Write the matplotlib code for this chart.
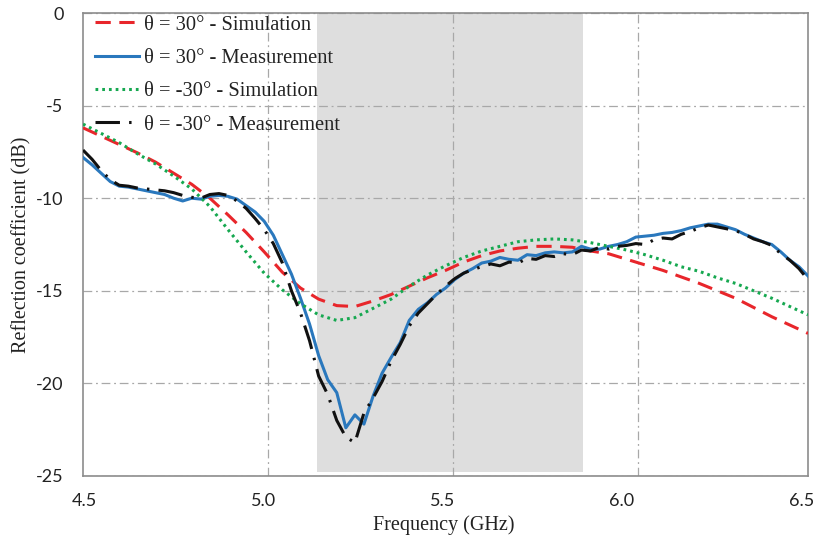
import matplotlib
matplotlib.use("Agg")
import matplotlib.pyplot as plt
from matplotlib.patches import Rectangle
from matplotlib.transforms import ScaledTranslation

plt.rcParams["axes.unicode_minus"] = False

# Simulated reflection coefficient (dB), sampled every 50 MHz
freq_sim = [4.50, 4.55, 4.60, 4.65, 4.70, 4.75, 4.80, 4.85, 4.90, 4.95,
            5.00, 5.05, 5.10, 5.15, 5.20, 5.25, 5.30, 5.35, 5.40, 5.45,
            5.50, 5.55, 5.60, 5.65, 5.70, 5.75, 5.80, 5.85, 5.90, 5.95,
            6.00, 6.05, 6.10, 6.15, 6.20, 6.25, 6.30, 6.35, 6.40, 6.45, 6.50]
sim_p30 = [-6.2, -6.65, -7.1, -7.55, -8.05, -8.65, -9.25, -10.0, -10.9, -11.85,
           -12.9, -14.0, -14.85, -15.45, -15.8, -15.85, -15.55, -15.2, -14.75, -14.3,
           -13.9, -13.45, -13.1, -12.85, -12.7, -12.6, -12.6, -12.65, -12.85, -13.0,
           -13.3, -13.6, -13.9, -14.25, -14.6, -15.0, -15.4, -15.9, -16.4, -16.85, -17.3]
sim_m30 = [-6.0, -6.5, -7.0, -7.6, -8.15, -8.8, -9.5, -10.45, -11.7, -12.9,
           -14.05, -14.95, -15.7, -16.3, -16.6, -16.45, -15.95, -15.45, -14.75, -14.15,
           -13.65, -13.2, -12.85, -12.6, -12.35, -12.25, -12.2, -12.25, -12.4, -12.6,
           -12.8, -13.05, -13.35, -13.7, -13.95, -14.3, -14.6, -15.0, -15.4, -15.85, -16.3]

# Measured reflection coefficient (dB), sampled every 25 MHz
freq_meas = [4.500, 4.525, 4.550, 4.575, 4.600, 4.625, 4.650, 4.675, 4.700, 4.725,
             4.750, 4.775, 4.800, 4.825, 4.850, 4.875, 4.900, 4.925, 4.950, 4.975,
             5.000, 5.025, 5.050, 5.075, 5.100, 5.125, 5.150, 5.175, 5.200, 5.225,
             5.250, 5.275, 5.300, 5.325, 5.350, 5.375, 5.400, 5.425, 5.450, 5.475,
             5.500, 5.525, 5.550, 5.575, 5.600, 5.625, 5.650, 5.675, 5.700, 5.725,
             5.750, 5.775, 5.800, 5.825, 5.850, 5.875, 5.900, 5.925, 5.950, 5.975,
             6.000, 6.025, 6.050, 6.075, 6.100, 6.125, 6.150, 6.175, 6.200, 6.225,
             6.250, 6.275, 6.300, 6.325, 6.350, 6.375, 6.400, 6.425, 6.450, 6.475, 6.500]
meas_p30 = [-7.8, -8.2, -8.65, -9.1, -9.35, -9.4, -9.5, -9.6, -9.7, -9.8,
            -10.0, -10.15, -10.0, -10.05, -9.9, -9.85, -9.9, -10.05, -10.4, -10.75,
            -11.25, -12.0, -13.05, -14.1, -15.4, -16.8, -18.5, -19.8, -20.5, -22.4,
            -21.7, -22.2, -20.7, -19.45, -18.6, -17.8, -16.6, -16.0, -15.65, -15.2,
            -14.85, -14.4, -14.05, -13.8, -13.5, -13.4, -13.2, -13.3, -13.35, -13.05,
            -13.1, -12.95, -12.9, -12.95, -12.9, -12.6, -12.75, -12.75, -12.6, -12.5,
            -12.35, -12.1, -12.05, -12.0, -11.9, -11.85, -11.75, -11.6, -11.5, -11.4,
            -11.4, -11.55, -11.7, -11.95, -12.15, -12.35, -12.5, -12.9, -13.35, -13.7, -14.2]
meas_m30 = [-7.4, -7.9, -8.5, -9.0, -9.3, -9.35, -9.45, -9.5, -9.55, -9.6,
            -9.7, -9.85, -9.95, -10.0, -9.8, -9.75, -9.85, -10.15, -10.55, -11.1,
            -11.7, -12.45, -13.5, -15.0, -16.2, -17.7, -19.6, -20.6, -22.0, -22.9,
            -23.2, -21.6, -20.8, -19.9, -18.8, -17.9, -16.9, -16.2, -15.7, -15.2,
            -14.75, -14.35, -14.05, -13.85, -13.7, -13.55, -13.65, -13.45, -13.5, -13.25,
            -13.3, -13.1, -13.15, -13.0, -13.05, -12.8, -12.85, -12.65, -12.75, -12.6,
            -12.55, -12.45, -12.5, -12.25, -12.15, -12.2, -11.95, -11.8, -11.6, -11.45,
            -11.55, -11.65, -11.75, -11.95, -12.2, -12.35, -12.55, -13.0, -13.35, -13.8, -14.4]

labels = ["\u03b8 = 30\u00b0 - Simulation",
          "\u03b8 = 30\u00b0 - Measurement",
          "\u03b8 = -30\u00b0 - Simulation",
          "\u03b8 = -30\u00b0 - Measurement"]

band_lo, band_hi, band_bottom = 5.145, 5.879, -24.8
x_ticks = [4.5, 5.0, 5.5, 6.0, 6.5]
x_tick_labels = ["4.5", "5.0", "5.5", "6.0", "6.5"]
x_grid = [5.01, 5.52, 6.03]
y_ticks = [0, -5, -10, -15, -20, -25]

serif = ["Liberation Serif", "DejaVu Serif"]
grid_style = dict(color="#a8a8a8", lw=0.9, linestyle=(0, (7, 3, 1.5, 3)))

fig = plt.figure(figsize=(8.17, 5.42), dpi=100)
ax = fig.add_axes([0.1016, 0.1218, 0.8874, 0.8542])
ax.set_xlim(4.5, 6.5)
ax.set_ylim(-25, 0)

# highlighted operating band
ax.add_patch(Rectangle((band_lo, band_bottom), band_hi - band_lo, -band_bottom,
                       facecolor="#dedede", edgecolor="none", zorder=0))

ax.set_axisbelow(True)
ax.grid(axis="y", **grid_style)
for gx in x_grid:
    ax.axvline(gx, zorder=0.5, **grid_style)

lw = 2.2
ax.plot(freq_sim, sim_p30, color="#e8262b", lw=lw, dashes=(5, 2.8), label=labels[0], zorder=3)
ax.plot(freq_meas, meas_p30, color="#2a78bd", lw=lw, label=labels[1], zorder=3)
ax.plot(freq_sim, sim_m30, color="#16a850", lw=lw, dashes=(0.9, 1.3), label=labels[2], zorder=3)
ax.plot(freq_meas, meas_m30, color="#111111", lw=lw, dashes=(8, 3, 0.8, 3), label=labels[3], zorder=4)

ax.set_xticks(x_ticks)
ax.set_xticklabels(x_tick_labels)
ax.set_yticks(y_ticks)
ax.tick_params(length=0, labelsize=13, colors="#222222")
ax.tick_params(axis="y", pad=14)
ax.tick_params(axis="x", pad=12)
for t in ax.get_xticklabels() + ax.get_yticklabels():
    t.set_family(["Lato", "DejaVu Sans"])

# nudge the x tick labels slightly left so the last one stays inside the canvas
x_label_shift = [1, -1, -3, -5, -6]
for t, dx in zip(ax.get_xticklabels(), x_label_shift):
    t.set_transform(t.get_transform() + ScaledTranslation(dx / 100, 0, fig.dpi_scale_trans))

for s in ax.spines.values():
    s.set_color("#8c8c8c")
    s.set_linewidth(1.2)

ax.text(-0.084, 0.5, "Reflection coefficient (dB)", transform=ax.transAxes,
        rotation=90, ha="center", va="center", fontsize=14.5, family=serif, color="#222222")
ax.text(0.497, -0.106, "Frequency (GHz)", transform=ax.transAxes,
        ha="center", va="center", fontsize=14.5, family=serif, color="#222222")

leg = ax.legend(loc="upper left", bbox_to_anchor=(0.0, 1.022), frameon=False,
                prop={"family": serif, "size": 14.8}, handlelength=2.1,
                handletextpad=0.28, labelspacing=0.68, borderaxespad=0.3, borderpad=0.3)
for t in leg.get_texts():
    t.set_color("#222222")

fig.savefig("out.png", dpi=100)
